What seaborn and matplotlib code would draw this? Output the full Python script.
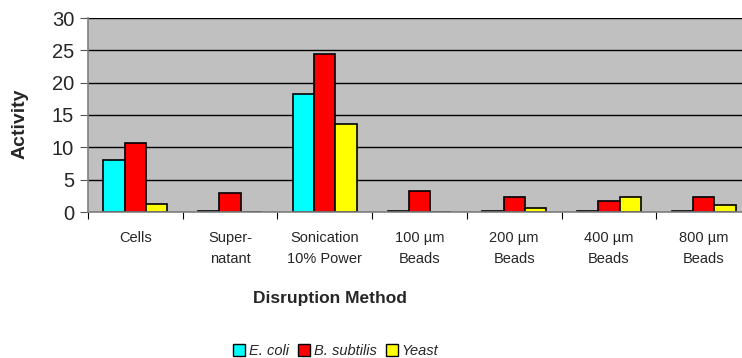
import numpy as np
import pandas as pd
import matplotlib.pyplot as plt
import seaborn as sns

methods = ['Cells', 'Super-\nnatant', 'Sonication\n10% Power', '100 µm\nBeads',
           '200 µm\nBeads', '400 µm\nBeads', '800 µm\nBeads']
organisms = ['E. coli', 'B. subtilis', 'Yeast']
ecoli = [8.0, 0.2, 18.2, 0.2, 0.2, 0.2, 0.2]
bsubtilis = [10.7, 3.0, 24.5, 3.3, 2.3, 1.75, 2.3]
yeast = [1.3, 0.0, 13.6, 0.0, 0.6, 2.3, 1.1]
colors = ['#00FFFF', '#FF0000', '#FFFF00']

df = pd.DataFrame({
    'method': methods * 3,
    'organism': np.repeat(organisms, len(methods)),
    'activity': ecoli + bsubtilis + yeast,
})

sns.set_style('white')
plt.rcParams['font.family'] = ['Liberation Sans', 'DejaVu Sans']

W, H = 742, 358
fig = plt.figure(figsize=(W / 100, H / 100), dpi=100)
ax = fig.add_axes([88 / W, 1 - 212 / H, 663 / W, 194 / H])
ax.set_facecolor('#C0C0C0')

sns.barplot(data=df, x='method', y='activity', hue='organism', hue_order=organisms,
            palette=colors, saturation=1, width=0.675, edgecolor='black', linewidth=1.2,
            errorbar=None, ax=ax, legend=False)

ax.set_xlim(-0.5, len(methods) - 0.5)
ax.set_ylim(0, 30)
ax.set_yticks(range(0, 31, 5))
ax.yaxis.grid(True, color='black', linewidth=1)
ax.set_axisbelow(True)
ax.tick_params(axis='y', labelsize=14.5, left=True, length=6, color='#555555', pad=4)

ax.set_xticks(np.arange(-0.5, len(methods), 1.0))
ax.set_xticklabels([])
ax.set_xticks(range(len(methods)), minor=True)
ax.set_xticklabels(methods, minor=True, fontsize=10.5, linespacing=1.6)
ax.tick_params(axis='x', which='major', bottom=True, length=5, color='black')
ax.tick_params(axis='x', which='minor', bottom=False, length=0, pad=14)

for s in ['top', 'right']:
    ax.spines[s].set_visible(False)
for s in ['left', 'bottom']:
    ax.spines[s].set_color('#808080')
    ax.spines[s].set_linewidth(1.2)

ax.set_xlabel('')
ax.set_ylabel('')
fig.text(330 / W, 1 - 298 / H, 'Disruption Method', fontsize=12.5, fontweight='bold',
         ha='center', va='center')
fig.text(20 / W, 1 - 124 / H, 'Activity', fontsize=14, fontweight='bold',
         ha='center', va='center', rotation=90)

handles = [plt.Rectangle((0, 0), 1, 1, facecolor=c, edgecolor='black', linewidth=1)
           for c in colors]
fig.legend(handles, organisms, loc='center', bbox_to_anchor=(336 / W, 1 - 351 / H),
           ncol=3, frameon=False, handlelength=0.8, handleheight=0.8,
           handletextpad=0.3, columnspacing=0.6, prop={'style': 'italic', 'size': 10.5})

fig.savefig('out.png', dpi=100)
